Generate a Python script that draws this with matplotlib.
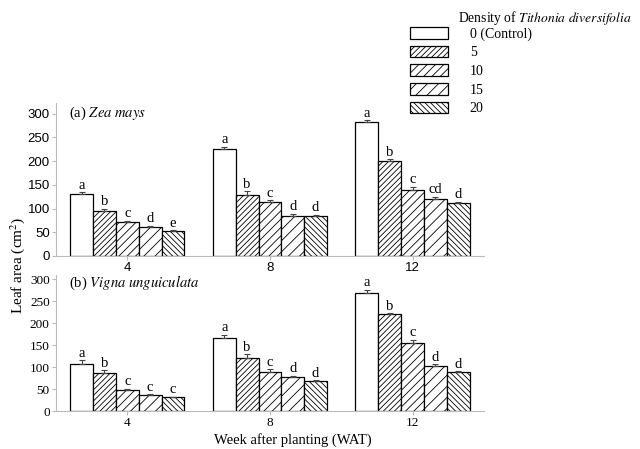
import numpy as np
import matplotlib.pyplot as plt
from matplotlib.patches import Patch

plt.rcParams['font.family'] = 'Liberation Serif'
plt.rcParams['mathtext.fontset'] = 'stix'
plt.rcParams['hatch.linewidth'] = 0.6
plt.rcParams['hatch.color'] = '#333333'

weeks = ['4', '8', '12']
densities = ['0 (Control)', '5', '10', '15', '20']
hatches = ['', '//////', '////', '///', '\\\\\\\\\\\\']

# (a) Zea mays, rows = density, cols = week
zea = [[131, 226, 282],
       [94, 128, 201],
       [71, 114, 140],
       [61, 85, 121],
       [52, 84, 112]]
zea_err = [[3, 4, 4],
           [6, 8, 3],
           [3, 4, 6],
           [3, 4, 4],
           [2, 3, 2]]
zea_letters = [['a', 'a', 'a'],
               ['b', 'b', 'b'],
               ['c', 'c', 'c'],
               ['d', 'd', 'cd'],
               ['e', 'd', 'd']]

# (b) Vigna unguiculata
vigna = [[108, 167, 268],
         [86, 121, 220],
         [47, 89, 154],
         [36, 77, 103],
         [31, 68, 88]]
vigna_err = [[7, 7, 8],
             [7, 8, 3],
             [4, 6, 8],
             [2, 3, 3],
             [2, 2, 3]]
vigna_letters = [['a', 'a', 'a'],
                 ['b', 'b', 'b'],
                 ['c', 'c', 'c'],
                 ['c', 'd', 'd'],
                 ['c', 'd', 'd']]

fig = plt.figure(figsize=(6.4, 4.49), dpi=100)
ax1 = fig.add_axes([0.0875, 0.430, 0.6685, 0.340])
ax2 = fig.add_axes([0.0875, 0.0846, 0.6685, 0.3034])

w = 0.16
x = np.arange(len(weeks))


def draw(ax, vals, errs, letters, title, tickfont, ymax, ty):
    for i in range(len(densities)):
        pos = x + (i - 2) * w
        ax.bar(pos, vals[i], width=w, color='white', edgecolor='black',
               linewidth=0.9, hatch=hatches[i], zorder=2)
        ax.errorbar(pos, vals[i], yerr=[np.zeros(3), errs[i]], fmt='none',
                    ecolor='#444444', elinewidth=0.8, capsize=2.5,
                    capthick=0.8, zorder=3)
        for j in range(len(weeks)):
            ax.text(pos[j], vals[i][j] + errs[i][j] + 1, letters[i][j],
                    ha='center', va='bottom', fontsize=10.5)
    ax.set_xlim(-0.5, 2.5)
    ax.set_ylim(0, ymax)
    ax.set_yticks(range(0, 301, 50))
    ax.set_xticks(x)
    ax.set_xticklabels(weeks)
    for s in ['top', 'right']:
        ax.spines[s].set_visible(False)
    for s in ['left', 'bottom']:
        ax.spines[s].set_color('#bbbbbb')
        ax.spines[s].set_linewidth(0.8)
    ax.tick_params(colors='#bbbbbb', length=3, width=0.8, labelcolor='black',
                   labelsize=9.5, pad=1.5)
    for lab in ax.get_xticklabels() + ax.get_yticklabels():
        lab.set_family(tickfont)
    ax.text(0.03, ty, title, fontsize=10.5, va='center', ha='left',
            transform=ax.get_yaxis_transform())


draw(ax1, zea, zea_err, zea_letters, '(a) $\\it{Zea\\ mays}$',
     'Liberation Sans', 322, 300)
draw(ax2, vigna, vigna_err, vigna_letters, '(b) $\\it{Vigna\\ unguiculata}$',
     'Liberation Serif', 310, 292)

fig.text(0.027, 0.41, 'Leaf area (cm$^2$)', rotation=90, ha='center',
         va='center', fontsize=11)
fig.text(0.457, 0.02, 'Week after planting (WAT)', ha='center',
         va='center', fontsize=10.5)

handles = [Patch(facecolor='white', edgecolor='black', linewidth=0.9,
                 hatch=h) for h in hatches]
fig.legend(handles, densities, loc='upper left',
           bbox_to_anchor=(0.63, 0.955), frameon=False, fontsize=10,
           handlelength=2.7, handleheight=0.9, labelspacing=0.36,
           handletextpad=1.6, borderpad=0)
fig.text(0.716, 0.96, 'Density of $\\it{Tithonia\\ diversifolia}$',
         ha='left', va='center', fontsize=9.8)

fig.savefig('out.png', dpi=100)
